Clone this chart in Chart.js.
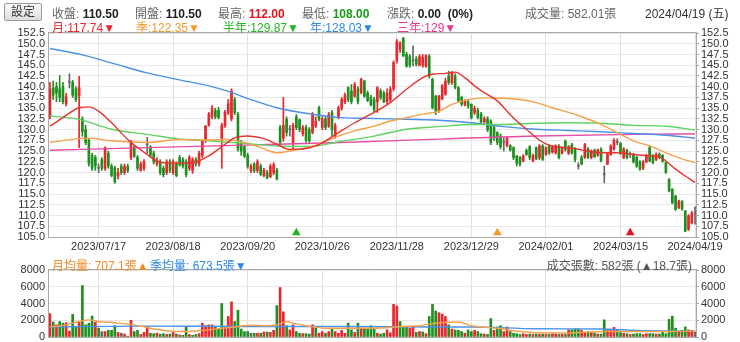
<!DOCTYPE html>
<html>
<head>
<meta charset="utf-8">
<script src="https://cdn.jsdelivr.net/npm/chart.js@4.4.1/dist/chart.umd.min.js"></script>
<style>
  body { margin: 0; width: 740px; height: 342px; overflow: hidden; background: #fff;
         font-family: "Liberation Sans", "Noto Sans CJK TC", sans-serif; }
  canvas { position: absolute; left: 0; }
  .t { position: absolute; font-size: 12px; white-space: nowrap; color: #666; z-index: 2; }
  .t b { color: #222; }
  #btn { position: absolute; left: 4px; top: 3px; width: 36px; height: 16px; border: 1px solid #999;
         border-radius: 2px; background: linear-gradient(#fafafa, #ddd); font-size: 12px; color: #333;
         text-align: center; line-height: 16px; z-index: 2; }
</style>
</head>
<body>
<canvas id="main" width="740" height="256" style="top:0"></canvas>
<canvas id="vol" width="740" height="100" style="top:250px"></canvas>

<div id="btn">設定</div>
<div class="t" style="left:52px;top:4px">收盤: <b>110.50</b></div>
<div class="t" style="left:135px;top:4px">開盤: <b>110.50</b></div>
<div class="t" style="left:218px;top:4px">最高: <b style="color:#e8101a">112.00</b></div>
<div class="t" style="left:302px;top:4px">最低: <b style="color:#1a9a1a">108.00</b></div>
<div class="t" style="left:387px;top:4px">漲跌: <b>0.00&nbsp; (0%)</b></div>
<div class="t" style="left:525px;top:4px">成交量: 582.01張</div>
<div class="t" style="left:645px;top:4px;color:#333">2024/04/19 (五)</div>

<div class="t" style="left:52px;top:18px;color:#e8262b">月:117.74▼</div>
<div class="t" style="left:136px;top:18px;color:#f39a2c">季:122.35▼</div>
<div class="t" style="left:223px;top:18px;color:#22b422">半年:129.87▼</div>
<div class="t" style="left:310px;top:18px;color:#2f8ae6">年:128.03▼</div>
<div class="t" style="left:397px;top:18px;color:#e8368f">三年:129▼</div>

<div class="t" style="left:52px;top:256px;color:#f08a1e">月均量: 707.1張▲</div>
<div class="t" style="left:150px;top:256px;color:#2f8ae6">季均量: 673.5張▼</div>
<div class="t" style="right:48px;top:256px;color:#555">成交張數: 582張 (▲18.7張)</div>

<script>
// x tick labels (bar index -> date)
const tickIdx = [15, 38, 61, 84, 107, 130, 153, 176, 199];
const tickText = ['2023/07/17', '2023/08/18', '2023/09/20', '2023/10/26', '2023/11/28',
                  '2023/12/29', '2024/02/01', '2024/03/15', '2024/04/19'];

const opens = [
  133,139.7,140,139.5,140,136,141,141,139.5,137.8, 132.5,130,127.5,124,123.5,121,123,121,124.5,121.5,
  121,119.2,121.5,120,121.5,123.5,126,123.5,120.5,121, 126.5,126,124.5,122,122.5,121,120,122.5,120,122,
  123.5,123,122.5,121,120.5,123,122,124,127.5,131, 133,134.5,134.5,128,131,134,132.5,137,133.5,127,
  126,124,120.5,122,120.5,121.5,119.3,120,119,120, 120.5,130.5,128,132.4,130,127,133,132.3,129,130.5,
  130,129.3,130.8,135.1,130.5,132.5,130.8,134,128.5,132.8, 135,136.5,139.8,139,137.8,139.5,138.6,141.3,138.5,137.5,
  137,136.5,139,138.5,136.5,137,139.5,146,148.7,151.3, 147.5,147,146,146.5,145,145,144.8,147.1,141.7,137.8,
  134.5,137.1,138.2,142.5,140.9,142.5,139.8,137.5,135.8,136.5, 135.9,134,134.5,133.6,131.8,132.5,132,130.5,129.3,128.5,
  127,126.3,126.3,125.8,123.9,123.5,122.7,125.2,126,122.8, 125.8,123.5,126.2,124.2,126.2,124.8,124.6,126.2,124.5,127.3,
  124.5,126.5,125.5,121.5,123.5,123.5,125.5,123.5,125.2,124, 125.4,119.5,122,124.2,125.5,127,126.8,123.5,125.2,124.2,
  124.3,123.5,122.5,121,122.5,125.8,124,123,124.3,124, 122.3,118.4,116.1,114.5,111.8,113.3,111,106.8,108.3,110.5
];
const highs = [
  141,141.3,141,142.6,141,138.5,143,141.5,140,142.4, 133,131,128,124.5,124,122,123.5,126,125,122,
  121.5,121,122,122,122,127.5,126.3,124,122.5,123, 128.2,126.3,125,123.5,123,121.5,123,123,123,122.5,
  124,123.5,123,124,123.5,123.5,125,127.5,131,134, 135.6,135,135.2,131.5,134.5,137,139.5,137.5,134,127.5,
  126.3,124.5,122,122.3,123,122,121,120.5,122,122.3, 121,131,137.5,133,131,131.5,133.5,132.5,131,131,
  130.5,134,133,135.5,133,133,134,134.5,131.5,135.5, 137.5,138.5,140,140.5,141,140,142,141.5,139,138,
  137.5,140,139.5,139,139.5,140,146,151,150.5,151.5, 148,147.5,149.5,147,147.5,147.5,147.5,147.5,142,138,
  138,140.5,142,143.6,143.6,143,140,137.8,137,137, 136,135.5,135,134,133,133,132.3,131,129.5,129,
  128.1,128.3,126.5,126,124,123.8,124.2,125.5,126.3,124.3, 126,126.5,126.5,126,126.5,126.3,126.5,126.5,126,127.6,
  126.3,126.8,125.8,122.3,124,126.8,125.8,125.3,125.5,125.5, 125.8,121.5,124.5,126.5,127.9,127.9,127,125.8,125.5,124.8,
  124.5,123.8,122.8,122.8,124.3,126.2,124.2,124.6,124.6,124.2, 122.5,118.6,116.3,114.7,113.6,113.5,111.2,110.2,111,112
];
const lows = [
  132.5,137,136.5,136.5,136,135.5,139.7,137.5,136.5,125.8, 128.5,126.5,121.5,120.5,120.5,120,120.5,120.5,121,119,
  117.5,118.5,119.5,119.5,120,123,123.5,120.5,120.3,120.5, 124.5,123.5,122,121.5,119.5,119,119.5,120,119.5,119,
  121.5,121,119,120.5,119.8,121.5,121.5,123.5,127,130.8, 132.5,132.5,132.5,121,130.5,133.5,132,133.5,125,124,
  123.5,121,120,120,120,119.3,119,118.5,118.8,119.5, 118.3,126.5,127.3,128.5,128.5,125.5,130,129.5,128.5,127,
  127,129,130.5,132,130,130,130.5,128.5,128,132.5, 134.5,136,136.5,136,137.5,136,138.3,137.5,136.5,135.5,
  134,134,137,136.3,136,136.5,139,145.5,148,147, 144.5,144.5,144.8,144.8,144.8,144.5,144.5,142,134.8,133.5,
  134,137,138,140.5,140.5,139.5,136.5,135.5,135.5,135, 132.5,133.5,132.5,131.5,131.5,129.5,126.5,127.5,126.5,125.5,
  125,126,125,123,121.5,121.5,122.5,124,123,122.5, 123,123,122.8,124,124.2,124.5,124.3,123.2,124.3,125,
  124.2,124.3,122.5,120.8,121.8,123.3,123.3,123.2,123.5,123.8, 122.5,117.6,121.8,124,125.2,126.5,124.2,123.2,123.2,123.5,
  122.2,121.2,120.5,120.7,122.3,122.5,122,122.8,123.2,122.4, 119.8,115.5,112.7,111.2,111.6,111.2,106.2,106.5,108,108
];
const closes = [
  139.5,138,138.5,137.5,136.5,137.7,141,138,137,139.8, 129.5,127,122,121,121.5,121,121,125.8,121.5,119.3,
  117.8,120,120,121.5,120.5,127,123.8,121,122,122.5, 126.5,124,122.5,122.7,120,119.5,122.5,120.5,122.5,119.3,
  121.8,121.5,119.5,123.5,123,122,124.5,127.3,130.8,133.6, 135,133,132.8,131,134,136,139,134,125.5,125,
  123.8,121.5,121.5,120.4,122.5,119.6,120.5,118.8,121.5,121.8, 118.5,127,131,129.3,130,131,130.5,130,130.5,127.5,
  127.4,133.6,132,132.4,132.5,130.5,133.5,130,131,135.1, 137,138,137,136.5,140.5,136.5,141.7,137.8,136.8,135.8,
  134.7,139.8,137.5,136.5,138.5,139.4,145.6,150.5,150.2,147.2, 144.8,145,146,145.2,147,146.8,147.2,142.5,135.1,134.3,
  137.8,140.2,141.3,141,143.2,139.8,136.7,136,136.8,135.5, 132.8,135,132.8,131.8,132.5,130,127,128,127,126,
  127,128,125.2,123.5,122.2,122,123.9,124.2,123.5,124, 123.2,126.2,123.1,125.8,124.6,126,126.2,123.5,125.8,125.4,
  126,124.6,123,121.5,122,126.5,123.5,125,123.7,125.3, 122.8,119.5,124.3,126.2,127.5,127,124.5,125.5,123.5,124.2,
  122.5,121.5,120.8,122.5,124,122.7,122.3,124.3,123.5,122.7, 120,115.7,113,111.4,113.4,111.5,106.4,109.9,110.5,110.5
];
const volumes = [
  2800,1800,1450,1850,1650,1700,700,2700,1200,1850, 6150,1450,1650,2500,1750,1050,650,650,800,800,
  1350,550,450,350,100,2000,650,800,300,550, 1250,450,400,450,350,400,300,350,550,350,
  250,200,1200,300,200,300,400,1650,1350,1450, 1450,1200,950,4000,1250,2450,4200,1850,3200,950,
  650,650,450,450,450,450,600,600,550,800, 3750,5900,3000,1350,850,1450,650,450,400,400,
  350,1450,1050,450,650,450,650,1050,650,450, 800,450,1650,850,550,1650,950,1050,1050,1350,
  1050,450,350,450,850,500,3900,3700,1850,1200, 1200,1050,1200,550,650,600,400,2450,3900,3100,
  2900,2750,2450,1450,950,850,800,650,450,850, 650,800,650,400,350,300,2200,800,1200,1350,
  650,1200,650,450,400,300,400,300,350,300, 350,300,350,300,300,400,350,300,350,300,
  850,850,950,950,800,550,650,550,450,350, 350,2050,800,850,1150,800,650,450,400,300,
  350,400,400,300,400,400,400,350,350,550, 400,2100,2500,1050,650,800,1200,850,800,582
];

// moving averages: [bar index, value]
const maMonth = [[0,130.8],[4,132.8],[9,135.1],[12,135.3],[15,134.3],[19,131.6],[24,127.7],[30,124.2],[33,122.7],[36,122.2],
  [44,122.3],[49,123.9],[54,126.6],[57,128.1],[61,128.5],[66,127.9],[70,126.6],[74,125.4],[79,125.6],[82,126.2],[85,127.4],
  [89,129.3],[94,131.6],[100,134],[105,136.3],[110,139.4],[115,142.1],[118,142.9],[122,143.1],[125,143.4],[128,142.1],
  [131,140.2],[134,138.6],[138,136.7],[141,134.3],[144,132],[147,130.1],[150,128.1],[153,126.7],[156,126],[160,125.8],
  [164,125.3],[170,124.6],[175,124.6],[180,124.2],[185,123.9],[188,123.7],[190,122.7],[193,120.8],[196,119.2],[199,117.7]];
const maQuarter = [[0,127],[9,127.9],[12,128],[19,127.4],[30,127],[40,127.7],[49,127.6],[54,127.7],[60,127],[65,125.8],
  [70,124.6],[75,125.2],[80,125.9],[84,127],[89,128.5],[94,129.7],[100,130.8],[105,132],[110,132.8],[115,133.6],[120,134.3],
  [124,135.9],[129,137],[134,137.4],[140,137.3],[145,137],[150,136.3],[155,135.1],[160,134],[164,133],[170,131.2],
  [175,129.3],[180,127.4],[185,126.2],[190,124.6],[195,123.2],[199,122.3]];
const maHalf = [[0,133.2],[9,132.4],[19,130.1],[30,128.9],[40,127.8],[49,127.4],[60,126.8],[70,126.2],[80,126.1],
  [90,127.3],[100,128.5],[110,130.1],[120,130.7],[130,131.2],[140,131.2],[150,131.5],[160,131.6],[170,131.5],
  [180,131],[190,130.8],[199,129.9]];
const maYear = [[0,148.9],[10,147.4],[20,145.3],[30,143.2],[40,141.6],[49,140.2],[55,138.9],[62,137],[70,135.1],
  [80,133.7],[90,132.8],[100,132.6],[110,132.4],[120,132.2],[130,131.6],[140,130.7],[150,130.1],[160,129.8],
  [170,129.5],[180,129.1],[190,128.7],[199,128]];
const ma3Year = [[0,125.2],[30,125.8],[60,126.4],[90,127],[120,127.8],[150,128.5],[180,128.9],[199,129]];

const volMonth = [[0,1200],[5,1450],[9,1850],[12,2050],[15,1850],[20,1700],[26,1450],[31,1050],[36,750],[41,650],
  [46,750],[51,950],[57,1200],[62,1400],[67,1350],[70,1450],[73,1850],[75,1650],[79,1350],[85,1050],[93,1050],
  [99,1050],[109,1250],[114,1350],[119,1650],[126,1800],[130,1350],[138,1050],[145,650],[155,470],[160,480],
  [171,650],[181,650],[191,650],[199,707]];
const volQuarter = [[0,1200],[30,1300],[60,1250],[90,1250],[120,1200],[130,1200],[150,980],[170,950],[181,780],[199,673]];

// signal markers under the candles: [bar index, colour]
const signals = [[76, '#22b422'], [138, '#f39a2c'], [179, '#e8101a']];

const RED = '#e8262b', GREEN = '#1f8f1f', GRAY = '#666';
const bars = closes.map((c, i) => i);
const candleColor = bars.map(i => closes[i] > opens[i] ? RED : closes[i] < opens[i] ? GREEN : GRAY);
const volColor = bars.map(i => {
  const prev = i > 0 ? closes[i - 1] : opens[i];
  return closes[i] > prev ? RED : closes[i] < prev ? GREEN : GRAY;
});

const tickFont = { family: "'Liberation Sans', Arial, sans-serif", size: 11 };
const pts = arr => arr.map(([x, y]) => ({ x, y }));
const maLine = (arr, color) => ({
  type: 'line', data: pts(arr), borderColor: color, borderWidth: 1.4,
  pointRadius: 0, cubicInterpolationMode: 'monotone'
});

const frame = {
  id: 'frame',
  afterDraw(chart) {
    const a = chart.chartArea, ctx = chart.ctx;
    ctx.save();
    ctx.strokeStyle = '#a8a8a8';
    ctx.lineWidth = 1;
    ctx.strokeRect(Math.round(a.left) - 0.5, Math.round(a.top) - 0.5, Math.round(a.right - a.left) + 1, Math.round(a.bottom - a.top) + 1);
    ctx.restore();
  }
};

function xScale(showLabels) {
  return {
    type: 'linear', min: -0.3, max: 199.3, offset: false,
    grid: { color: '#e0e0e0', drawTicks: false, offset: false },
    border: { display: false },
    afterBuildTicks: s => { s.ticks = tickIdx.map(v => ({ value: v })); },
    afterFit: s => { s.height = showLabels ? 19 : 0; },
    ticks: {
      display: showLabels, autoSkip: false, maxRotation: 0, padding: 3,
      font: tickFont, color: '#333',
      callback: v => tickText[tickIdx.indexOf(v)] || ''
    }
  };
}

function yScale(pos, min, max, step, fmt, grid) {
  return {
    type: 'linear', position: pos, min, max,
    grid: grid ? { color: '#e8e8e8', drawTicks: false } : { drawOnChartArea: false, tickLength: 3, color: '#a8a8a8' },
    border: { display: false },
    afterFit: s => { s.width = pos === 'left' ? 49 : 44; },
    ticks: { stepSize: step, maxTicksLimit: 100, autoSkip: false, padding: pos === 'left' ? 4 : 2,
             font: tickFont, color: '#333', callback: fmt }
  };
}

new Chart(document.getElementById('main'), {
  data: {
    datasets: [
      maLine(maMonth, '#e8332f'),
      maLine(maQuarter, '#f5a04a'),
      maLine(maHalf, '#5fd35f'),
      maLine(maYear, '#4a92e6'),
      maLine(ma3Year, '#e64ca5'),
      { type: 'line', showLine: false, data: signals.map(([x]) => ({ x, y: 106 })),
        pointStyle: 'triangle', pointRadius: 5, pointBorderWidth: 0,
        pointBackgroundColor: signals.map(s => s[1]) },
      { type: 'bar', data: bars.map(i => ({ x: i, y: [opens[i], closes[i]] })),
        backgroundColor: candleColor, barThickness: 2, minBarLength: 1, grouped: false },
      { type: 'bar', data: bars.map(i => ({ x: i, y: [lows[i], highs[i]] })),
        backgroundColor: candleColor, barThickness: 1, grouped: false }
    ]
  },
  options: {
    responsive: false, animation: false, devicePixelRatio: 1,
    layout: { padding: { top: 33, right: 0, left: 0, bottom: 0 } },
    plugins: { legend: { display: false }, tooltip: { enabled: false } },
    scales: {
      x: xScale(true),
      y: yScale('left', 105, 152.5, 2.5, v => v.toFixed(1), true),
      y2: yScale('right', 105, 152.5, 2.5, v => v.toFixed(1), false)
    }
  },
  plugins: [frame]
});

new Chart(document.getElementById('vol'), {
  data: {
    datasets: [
      maLine(volMonth, '#f5a04a'),
      maLine(volQuarter, '#4a92e6'),
      { type: 'bar', data: bars.map(i => ({ x: i, y: volumes[i] })),
        backgroundColor: volColor, barThickness: 2, grouped: false }
    ]
  },
  options: {
    responsive: false, animation: false, devicePixelRatio: 1,
    layout: { padding: { top: 20, right: 0, left: 0, bottom: 13 } },
    plugins: { legend: { display: false }, tooltip: { enabled: false } },
    scales: {
      x: xScale(false),
      y: yScale('left', 0, 8000, 2000, v => String(v), true),
      y2: yScale('right', 0, 8000, 2000, v => String(v), false)
    }
  },
  plugins: [frame]
});
</script>
</body>
</html>
